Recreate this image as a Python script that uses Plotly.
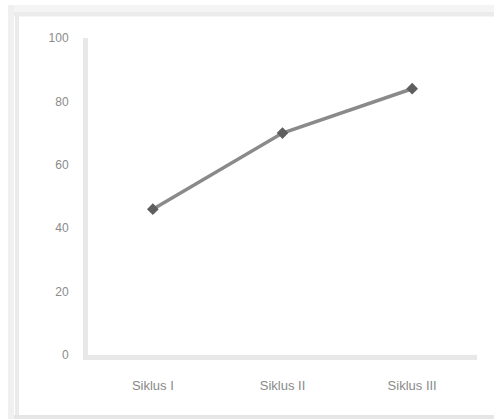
import plotly.graph_objects as go

categories = ["Siklus I", "Siklus II", "Siklus III"]
values = [46, 70, 84]
y_ticks = [0, 20, 40, 60, 80, 100]

W, H = 494, 419
L, R, T, B = 88, 17, 38, 64
pw, ph = W - L - R, H - T - B

def px(x):
    return (x - L) / pw

def py(y):
    return 1 - (y - T) / ph

def frame_line(x0, y0, x1, y1, color, width):
    return dict(type="line", xref="paper", yref="paper",
                x0=px(x0), x1=px(x1), y0=py(y0), y1=py(y1),
                line=dict(color=color, width=width), layer="below")

fig = go.Figure()
fig.add_trace(go.Scatter(
    x=categories, y=values, mode="lines+markers",
    line=dict(color="#8a8a8a", width=3.5),
    marker=dict(symbol="diamond", size=9, color="#5e5e5e"),
    showlegend=False,
))

fig.update_layout(
    width=W, height=H,
    margin=dict(l=L, r=R, t=T, b=B),
    paper_bgcolor="white", plot_bgcolor="white",
    font=dict(family="Liberation Sans, Arial, sans-serif", size=13, color="#8a8a8a"),
    xaxis=dict(range=[-0.5, 2.5], showgrid=False, zeroline=False, showline=True,
               linecolor="#e8e8e8", linewidth=5, ticks="", ticklabelstandoff=14,
               tickfont=dict(size=13, color="#8a8a8a")),
    yaxis=dict(range=[0, 100], tickvals=y_ticks, showgrid=False, zeroline=False,
               showline=True, linecolor="#e8e8e8", linewidth=5, ticks="",
               ticklabelstandoff=12, tickfont=dict(size=12, color="#8a8a8a")),
    shapes=[
        frame_line(8, 8, W, 8, "#f4f4f4", 6),
        frame_line(14, 14, W, 14, "#ebebeb", 5),
        frame_line(11, 5, 11, H, "#f0f0f0", 6),
        frame_line(17, 14, 17, H, "#ebebeb", 4),
        frame_line(14, 417, W, 417, "#e6e6e6", 4),
    ],
)

fig.write_html("out.html")
